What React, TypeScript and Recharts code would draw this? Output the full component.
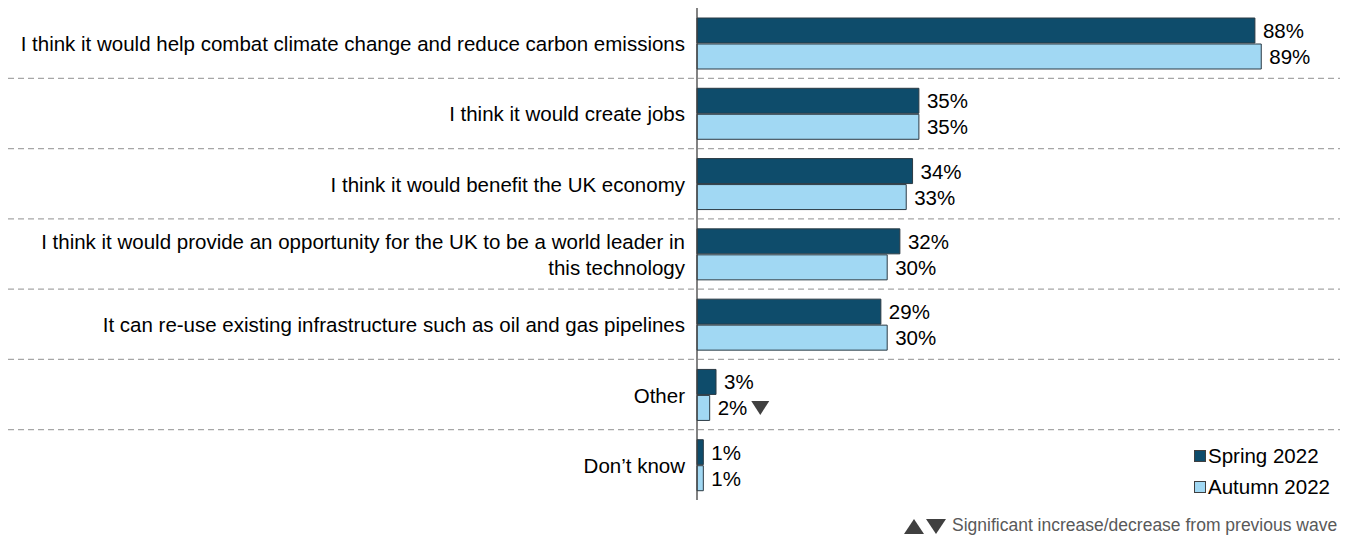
import React from 'react';
import { BarChart, Bar, XAxis, YAxis, LabelList } from 'recharts';

const categories = [
  'I think it would help combat climate change and reduce carbon emissions',
  'I think it would create jobs',
  'I think it would benefit the UK economy',
  'I think it would provide an opportunity for the UK to be a world leader in|this technology',
  'It can re-use existing infrastructure such as oil and gas pipelines',
  'Other',
  'Don\u2019t know',
];
const spring2022 = [88, 35, 34, 32, 29, 3, 1];
const autumn2022 = [89, 35, 33, 30, 30, 2, 1];
// -1 = significant decrease vs previous wave, 1 = increase
const autumnSig = [0, 0, 0, 0, 0, -1, 0];

const data = categories.map((name, i) => ({
  name,
  spring: spring2022[i],
  autumn: autumn2022[i],
}));

const DARK = '#0e4c6b';
const LIGHT = '#a1d8f3';
const FONT = 'Liberation Sans, Arial, sans-serif';
const FS = 20.5;

const W = 1353;
const H = 538;
const TOP = 8;
const BOTTOM = 38;
const BAND = (H - TOP - BOTTOM) / categories.length;

const CategoryTick = (props: any) => {
  const { x, y, payload, index } = props;
  const lines = String(payload.value).split('|');
  const lh = 26;
  const y0 = y - ((lines.length - 1) * lh) / 2;
  return (
    <g>
      {index > 0 && (
        <line x1={8} x2={1340} y1={y - BAND / 2} y2={y - BAND / 2} stroke="#a6a6a6" strokeWidth={1.3} strokeDasharray="6 4" />
      )}
      <text x={x} y={y0} textAnchor="end" dominantBaseline="central" fontSize={FS} fill="#000" fontFamily={FONT}>
        {lines.map((l, i) => (
          <tspan key={i} x={x} y={y0 + i * lh}>{l}</tspan>
        ))}
      </text>
    </g>
  );
};

const ValueLabel = (props: any) => {
  const { x, y, width, height, value, index } = props;
  const tx = x + width + 8;
  const cy = y + height / 2;
  const sig = props.sigs ? props.sigs[index] : 0;
  const textW = String(value).length * 11.4 + 18.2;
  return (
    <g>
      <text x={tx} y={cy} dominantBaseline="central" fontSize={FS} fill="#000" fontFamily={FONT}>
        {value}%
      </text>
      {sig < 0 && (
        <polygon
          points={`${tx + textW + 4},${cy - 7} ${tx + textW + 22},${cy - 7} ${tx + textW + 13},${cy + 7}`}
          fill="#404040"
        />
      )}
      {sig > 0 && (
        <polygon
          points={`${tx + textW + 4},${cy + 7} ${tx + textW + 22},${cy + 7} ${tx + textW + 13},${cy - 7}`}
          fill="#404040"
        />
      )}
    </g>
  );
};

const legendItems = [
  { label: 'Spring 2022', color: DARK },
  { label: 'Autumn 2022', color: LIGHT },
];

export default function App() {
  return (
    <div style={{ position: 'absolute', left: 0, top: 0, width: W, height: H, background: '#fff' }}>
      <BarChart
        width={W}
        height={H}
        data={data}
        layout="vertical"
        margin={{ top: TOP, right: 22, bottom: BOTTOM, left: 0 }}
        barCategoryGap={10}
        barGap={1}
      >
        <XAxis type="number" domain={[0, 100]} hide />
        <YAxis
          type="category"
          dataKey="name"
          width={697}
          tickLine={false}
          tickSize={0}
          tickMargin={12}
          axisLine={{ stroke: '#404040', strokeWidth: 1.3 }}
          tick={<CategoryTick />}
          interval={0}
        />
        <Bar dataKey="spring" name="Spring 2022" fill={DARK} stroke="#2b3a44" strokeWidth={1} isAnimationActive={false}>
          <LabelList dataKey="spring" content={<ValueLabel />} />
        </Bar>
        <Bar dataKey="autumn" name="Autumn 2022" fill={LIGHT} stroke="#2b3a44" strokeWidth={1} isAnimationActive={false}>
          <LabelList dataKey="autumn" content={<ValueLabel sigs={autumnSig} />} />
        </Bar>
      </BarChart>
      <div style={{ position: 'absolute', left: 1194, top: 440, fontFamily: FONT, fontSize: FS, color: '#000', lineHeight: '31px' }}>
        {legendItems.map((it) => (
          <div key={it.label} style={{ display: 'flex', alignItems: 'center', whiteSpace: 'nowrap' }}>
            <span style={{ display: 'inline-block', width: 10, height: 10, background: it.color, border: '1px solid #404040', marginRight: 2 }} />
            {it.label}
          </div>
        ))}
      </div>
      <div
        style={{
          position: 'absolute',
          left: 903,
          top: 515,
          fontFamily: FONT,
          fontSize: 17.5,
          color: '#595959',
          whiteSpace: 'nowrap',
          display: 'flex',
          alignItems: 'center',
        }}
      >
        <svg width={44} height={18} style={{ marginRight: 5 }}>
          <polygon points="1,17 21,17 11,2" fill="#404040" />
          <polygon points="23,2 43,2 33,17" fill="#404040" />
        </svg>
        Significant increase/decrease from previous wave
      </div>
    </div>
  );
}
